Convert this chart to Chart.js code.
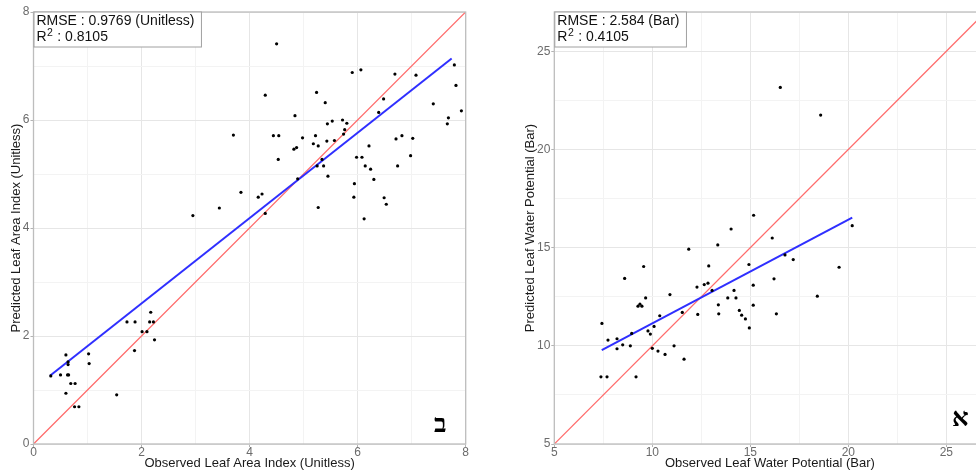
<!DOCTYPE html>
<html>
<head>
<meta charset="utf-8">
<script src="https://cdn.jsdelivr.net/npm/chart.js@4.4.1/dist/chart.umd.min.js"></script>
<style>
  html, body { margin: 0; padding: 0; overflow: hidden; background: #fff; }
  #wrap { position: relative; width: 976px; height: 472px; overflow: hidden; }
  #lai { position: absolute; left: 0; top: 0; }
  #lwp { position: absolute; left: 490px; top: 0; }
</style>
</head>
<body>
<div id="wrap">
  <canvas id="lai" width="480" height="472"></canvas>
  <canvas id="lwp" width="520" height="472"></canvas>
</div>
<script>
// --- Leaf Area Index panel (ב)
const laiObs = [4.50, 4.29, 3.70, 3.84, 2.95, 3.44, 4.16, 4.23, 4.29, 4.44, 4.54, 4.53, 4.84, 4.82, 4.87, 4.98, 4.89,
  5.24, 5.40, 5.22, 5.18, 5.27, 5.34, 5.25, 5.37, 5.45, 5.27, 5.44, 5.53, 5.43, 5.57, 5.72, 5.80, 5.76, 5.74,
  5.90, 6.06, 5.98, 6.08, 6.21, 6.14, 6.24, 6.30, 5.94, 5.93, 6.12, 6.39, 6.48, 6.69, 7.08, 6.49, 6.53, 6.71,
  6.82, 6.74, 7.02, 6.98, 7.40, 7.79, 7.82, 7.92, 7.68, 7.66,
  0.32, 0.50, 0.60, 0.64, 0.64, 0.63, 0.65, 0.60, 0.69, 0.77, 0.76, 0.84, 1.02, 1.03, 1.54, 1.73, 1.88, 1.87,
  2.01, 2.10, 2.17, 2.15, 2.22, 2.24];
const laiPred = [7.41, 6.46, 5.72, 4.66, 4.23, 4.37, 4.57, 4.63, 4.27, 5.71, 5.71, 5.27, 6.08, 5.46, 5.49, 5.67, 4.91,
  6.51, 6.32, 5.71, 5.56, 5.52, 5.27, 5.15, 5.15, 4.96, 4.38, 5.93, 5.98, 5.61, 5.62, 6.00, 5.94, 5.82, 5.74,
  6.88, 6.93, 5.31, 5.31, 5.52, 5.15, 5.09, 4.90, 4.82, 4.57, 4.17, 6.14, 6.39, 6.85, 6.83, 4.56, 4.44, 5.65,
  5.71, 5.15, 5.66, 5.34, 6.30, 7.02, 6.64, 6.17, 6.04, 5.93,
  1.26, 1.28, 1.65, 1.47, 1.52, 1.28, 1.28, 0.94, 1.12, 1.12, 0.69, 0.69, 1.67, 1.49, 0.91, 2.26, 2.26, 1.73,
  2.08, 2.08, 2.44, 2.26, 2.26, 1.93];
const laiFitX = [0.305, 7.74];
const laiFitY = [1.265, 7.14];
const laiOneToOne = [0, 8];

// --- Leaf Water Potential panel (א)
const lwpObs = [16.53, 18.59, 15.17, 14.02, 16.12, 20.20, 11.86, 13.34, 9.56, 8.59, 10.90, 9.66, 9.37, 9.27, 9.47,
  10.38, 11.53, 7.43, 7.74, 8.20, 8.49, 8.20, 8.88, 8.95, 9.78, 9.90, 10.09, 10.00, 10.29, 10.65, 11.11, 11.62,
  7.38, 7.69, 9.17, 12.28, 12.65, 12.84, 12.88, 13.05, 12.32, 13.37, 13.39, 13.85, 14.17, 14.27, 14.44, 14.56,
  14.75, 14.95, 14.93, 15.15, 15.15, 16.21, 16.33, 16.77, 17.19, 18.42, 19.53];
const lwpPred = [23.16, 21.75, 16.65, 15.95, 15.49, 16.12, 14.92, 15.14, 14.04, 13.43, 12.61, 12.44, 12.12, 12.02, 12.02,
  11.53, 11.70, 11.14, 10.29, 10.36, 10.05, 9.85, 10.00, 10.63, 10.76, 10.60, 10.99, 9.87, 9.73, 9.56, 10.00, 9.32,
  8.42, 8.42, 8.42, 12.99, 13.12, 13.19, 14.07, 12.82, 11.60, 12.09, 11.63, 12.44, 12.82, 12.44, 11.80, 11.56,
  11.37, 10.91, 14.14, 13.09, 12.07, 13.41, 11.63, 14.63, 14.39, 12.53, 14.00];
const lwpFitX = [7.42, 20.2];
const lwpFitY = [9.78, 16.53];
const lwpOneToOne = [5, 27];

const FONT = '"Liberation Sans", Arial, sans-serif';
const pairs = (xs, ys) => xs.map((x, i) => ({ x: x, y: ys[i] }));

// frame, stats label and panel letter
const panelDecor = {
  id: 'panelDecor',
  afterDatasetsDraw(chart, args, opts) {
    const { ctx, chartArea: a } = chart;
    ctx.save();
    ctx.strokeStyle = '#bdbdbd';
    ctx.lineWidth = 1.3;
    ctx.strokeRect(a.left, a.top, a.right - a.left, a.bottom - a.top);

    // stats box
    ctx.font = '14px ' + FONT;
    ctx.textBaseline = 'alphabetic';
    ctx.textAlign = 'left';
    const w = ctx.measureText(opts.rmse).width;
    const bx = a.left + 0.5, by = a.top, bw = w + 9.5, bh = 35;
    ctx.fillStyle = '#fff';
    ctx.fillRect(bx, by, bw, bh);
    ctx.strokeStyle = '#a0a0a0';
    ctx.lineWidth = 1;
    ctx.strokeRect(bx, by, bw, bh);
    ctx.fillStyle = '#111';
    const tx = bx + 2.5;
    ctx.fillText(opts.rmse, tx, by + 13);
    ctx.fillText('R', tx, by + 28.7);
    const rw = ctx.measureText('R').width;
    ctx.font = '10.5px ' + FONT;
    ctx.fillText('2', tx + rw + 0.5, by + 23.5);
    const sw = ctx.measureText('2').width;
    ctx.font = '14px ' + FONT;
    ctx.fillText(' : ' + opts.r2, tx + rw + sw + 1, by + 28.7);

    // panel letter
    const sx = chart.scales.x, sy = chart.scales.y;
    ctx.font = 'bold 26px "Liberation Serif", "DejaVu Serif", "DejaVu Sans", serif';
    ctx.textAlign = 'center';
    ctx.textBaseline = 'middle';
    ctx.fillStyle = '#000';
    ctx.fillText(opts.letter, sx.getPixelForValue(opts.letterAt[0]), sy.getPixelForValue(opts.letterAt[1]));
    ctx.restore();
  }
};

function axis(min, max, step, major, title, titlePad, fitSize, horizontal) {
  const isMajor = v => Math.abs(v / major - Math.round(v / major)) < 1e-9;
  return {
    type: 'linear',
    min: min,
    max: max,
    ticks: {
      stepSize: step,
      autoSkip: false,
      maxRotation: 0,
      padding: horizontal ? -2 : 1,
      color: '#6b6b6b',
      font: { family: FONT, size: 12 },
      callback: v => (isMajor(v) ? String(v) : '')
    },
    grid: {
      color: c => (c.tick && isMajor(c.tick.value) ? '#e6e6e6' : '#f3f3f3'),
      lineWidth: 1,
      tickLength: 3,
      tickColor: c => (c.tick && isMajor(c.tick.value) ? '#b3b3b3' : 'rgba(0,0,0,0)')
    },
    border: { display: false },
    title: {
      display: true,
      text: title,
      color: '#1a1a1a',
      font: { family: FONT, size: 13 },
      padding: titlePad
    },
    afterFit: s => { if (horizontal) s.height = fitSize; else s.width = fitSize; }
  };
}

function makeChart(id, obs, pred, fitX, fitY, oneToOne, cfg) {
  return new Chart(document.getElementById(id), {
    type: 'scatter',
    data: {
      datasets: [
        {
          data: pairs(obs, pred),
          pointRadius: 1.6,
          pointBackgroundColor: '#000',
          pointBorderWidth: 0,
          order: 0
        },
        {
          data: pairs(oneToOne, oneToOne),
          showLine: true,
          pointRadius: 0,
          borderColor: '#ff6b6b',
          borderWidth: 1.3,
          order: 2
        },
        {
          data: pairs(fitX, fitY),
          showLine: true,
          pointRadius: 0,
          borderColor: '#2f2fff',
          borderWidth: 2,
          order: 1
        }
      ]
    },
    options: {
      responsive: false,
      animation: false,
      layout: { padding: cfg.padding },
      scales: {
        x: axis(cfg.min, cfg.xmax, cfg.step, cfg.major, cfg.xTitle, { top: 0, bottom: 1.2 }, 28, true),
        y: axis(cfg.min, cfg.ymax, cfg.step, cfg.major, cfg.yTitle, { top: cfg.yTitlePad, bottom: 0 }, cfg.yWidth, false)
      },
      plugins: {
        legend: { display: false },
        tooltip: { enabled: false },
        panelDecor: { rmse: cfg.rmse, r2: cfg.r2, letter: cfg.letter, letterAt: cfg.letterAt }
      }
    },
    plugins: [panelDecor]
  });
}

makeChart('lai', laiObs, laiPred, laiFitX, laiFitY, laiOneToOne, {
  min: 0, xmax: 8, ymax: 8, step: 1, major: 2,
  xTitle: 'Observed Leaf Area Index (Unitless)',
  yTitle: 'Predicted Leaf Area Index (Unitless)',
  yTitlePad: 8.9, yWidth: 33.5,
  padding: { top: 12, right: 14.3, left: 0, bottom: 0 },
  rmse: 'RMSE : 0.9769 (Unitless)', r2: '0.8105',
  letter: 'ב', letterAt: [7.53, 0.35]
});

makeChart('lwp', lwpObs, lwpPred, lwpFitX, lwpFitY, lwpOneToOne, {
  min: 5, xmax: 27, ymax: 27, step: 2.5, major: 5,
  xTitle: 'Observed Leaf Water Potential (Bar)',
  yTitle: 'Predicted Leaf Water Potential (Bar)',
  yTitlePad: 32.2, yWidth: 64.3,
  padding: { top: 12, right: 24.5, left: 0, bottom: 0 },
  rmse: 'RMSE : 2.584 (Bar)', r2: '0.4105',
  letter: 'א', letterAt: [25.72, 6.27]
});
</script>
</body>
</html>
